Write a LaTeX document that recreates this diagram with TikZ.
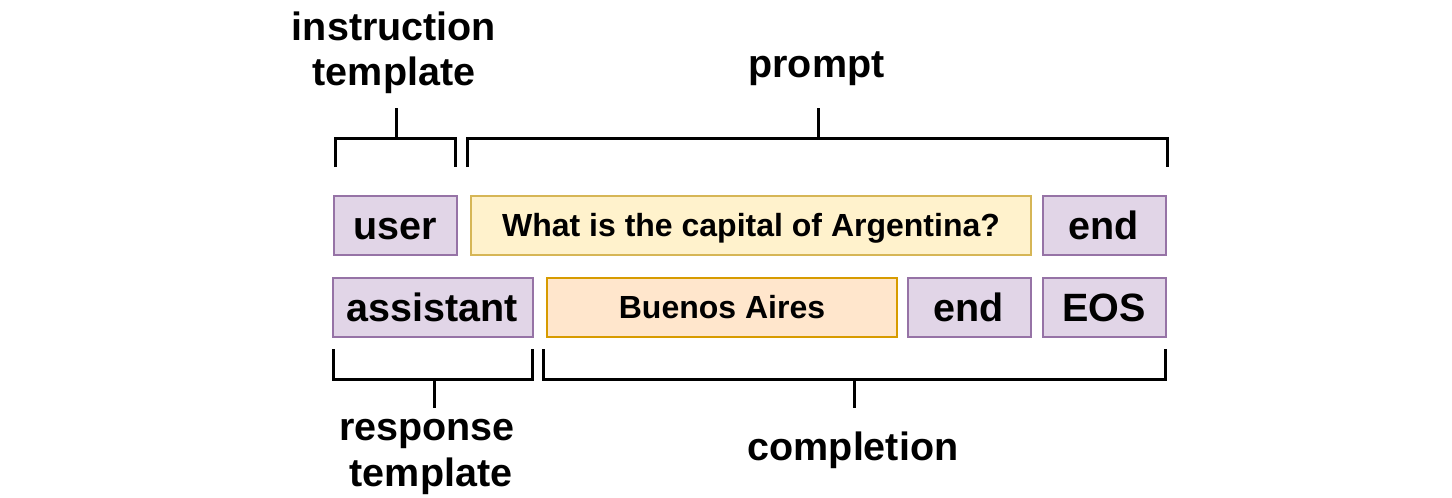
\documentclass[tikz,border=0pt]{standalone}
\usepackage{fontspec}
\setmainfont{Liberation Sans}
\definecolor{pfill}{HTML}{E1D5E7}
\definecolor{pdraw}{HTML}{9673A6}
\definecolor{yfill}{HTML}{FFF2CC}
\definecolor{ydraw}{HTML}{D6B656}
\definecolor{ofill}{HTML}{FFE6CC}
\definecolor{odraw}{HTML}{D79B00}
\tikzset{
  tok/.style={draw, line width=2pt, inner sep=0pt, minimum height=59pt,
    font=\fontsize{39.5}{45}\selectfont\bfseries, text height=29pt, text depth=0pt},
  special/.style={tok, fill=pfill, draw=pdraw},
  prompttxt/.style={tok, fill=yfill, draw=ydraw, font=\fontsize{32}{38}\selectfont\bfseries, text height=22pt},
  comptxt/.style={tok, fill=ofill, draw=odraw, font=\fontsize{32}{38}\selectfont\bfseries, text height=22pt},
  lbl/.style={anchor=base, inner sep=0pt, font=\fontsize{39.5}{45}\selectfont\bfseries},
  brace/.style={line width=3pt, line join=miter}
}
\begin{document}
\begin{tikzpicture}[x=1pt, y=-1pt]
\useasboundingbox (0,0) rectangle (1452,498);
% row 1
\node[special, minimum width=123pt] (user) at (395,225) {user};
\node[prompttxt, minimum width=560pt] (question) at (751,225) {What is the capital of Argentina?};
\node[special, minimum width=123pt] (end1) at (1104,225) {end};
% row 2
\node[special, minimum width=200pt] (assistant) at (432.5,307) {assistant};
\node[comptxt, minimum width=350pt] (answer) at (722,307) {Buenos Aires};
\node[special, minimum width=123pt] (end2) at (969,307) {end};
\node[special, minimum width=123pt] (eos) at (1104,307) {EOS};
% brackets
\draw[brace] (335,167) -- (335,138) -- (455,138) -- (455,167);
\draw[brace] (396,138) -- (396,108);
\draw[brace] (467,167) -- (467,138) -- (1167,138) -- (1167,167);
\draw[brace] (818,138) -- (818,108);
\draw[brace] (333,349) -- (333,379) -- (532,379) -- (532,349);
\draw[brace] (434,379) -- (434,408);
\draw[brace] (543,349) -- (543,379) -- (1165,379) -- (1165,349);
\draw[brace] (854,379) -- (854,408);
% labels
\node[lbl] (instr1) at (394,40) {instruction};
\node[lbl] (instr2) at (394,85) {template};
\node[lbl] (prompt) at (816.5,77) {prompt};
\node[lbl] (resp1) at (427,440) {response};
\node[lbl] (resp2) at (431,486) {template};
\node[lbl] (compl) at (853,460) {completion};
\end{tikzpicture}
\end{document}
